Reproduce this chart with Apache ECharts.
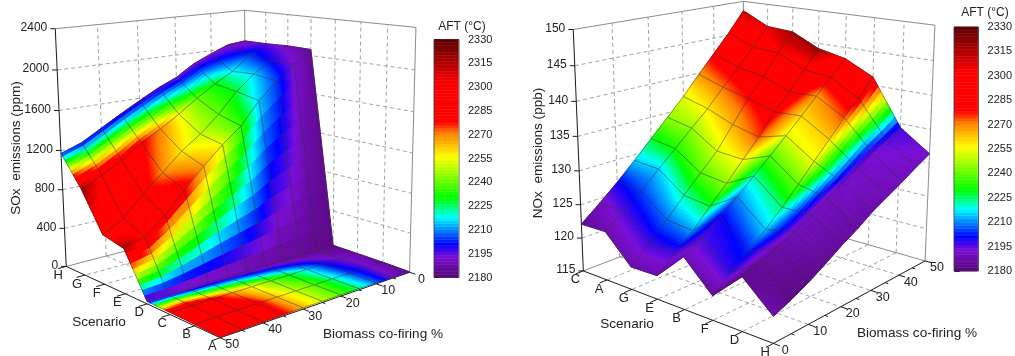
<!DOCTYPE html>
<html>
<head>
<meta charset="utf-8">
<title>SOx and NOx emissions</title>
<script src="https://cdn.jsdelivr.net/npm/echarts@6/dist/echarts.min.js"></script>
<style>
  html, body { margin: 0; padding: 0; background: #fff; }
  #main { width: 1015px; height: 356px; }
</style>
</head>
<body>
<div id="main"></div>
<script>
const biomass = [0, 5, 10, 15, 20, 25, 30, 35, 40, 45, 50];
const biomassTicks = [0, 10, 20, 30, 40, 50];
const aftTicks = [2180, 2195, 2210, 2225, 2240, 2255, 2270, 2285, 2300, 2315, 2330];

const soxScenarios = ['H', 'G', 'F', 'E', 'D', 'C', 'B', 'A'];
const soxTicks = [0, 400, 800, 1200, 1600, 2000, 2400];
const soxValues = [
  [2061, 2042, 1967, 1884, 1762, 1678, 1574, 1467, 1354, 1241, 1170],
  [2061, 1949, 1810, 1704, 1583, 1447, 1328, 1221, 1082, 972, 874],
  [2069, 1933, 1822, 1667, 1462, 1293, 1155, 977, 803, 609, 496],
  [2063, 1930, 1788, 1617, 1395, 1241, 1063, 868, 668, 505, 444],
  [25, 25, 25, 25, 25, 25, 25, 25, 25, 25, 25],
  [20, 20, 20, 20, 20, 20, 20, 20, 20, 20, 20],
  [15, 15, 15, 15, 15, 15, 15, 15, 15, 15, 15],
  [5, 8, 10, 12, 12, 12, 12, 12, 10, 8, 5]
];
const soxAft = [
  [2188, 2190, 2192, 2192, 2193, 2194, 2195, 2196, 2198, 2199, 2202],
  [2195, 2205, 2218, 2230, 2240, 2255, 2270, 2280, 2290, 2297, 2318],
  [2190, 2200, 2215, 2228, 2240, 2250, 2258, 2270, 2283, 2297, 2290],
  [2185, 2192, 2205, 2215, 2235, 2255, 2268, 2283, 2285, 2300, 2318],
  [2183, 2184, 2185, 2185, 2186, 2186, 2187, 2187, 2188, 2189, 2190],
  [2188, 2192, 2200, 2215, 2228, 2240, 2255, 2268, 2282, 2305, 2295],
  [2185, 2195, 2205, 2222, 2238, 2250, 2262, 2282, 2287, 2287, 2290],
  [2185, 2192, 2208, 2225, 2238, 2250, 2265, 2280, 2288, 2288, 2288]
];

const noxScenarios = ['C', 'A', 'G', 'E', 'B', 'F', 'D', 'H'];
const noxTicks = [115, 120, 125, 130, 135, 140, 145, 150];
const noxValues = [
  [122.1, 124.3, 126.6, 129.1, 131.7, 134.3, 136.9, 139.8, 142.6, 145.4, 148.5],
  [122.2, 124.2, 126.3, 128.8, 131.1, 133.5, 135.8, 138.5, 141.0, 143.7, 146.5],
  [118.3, 120.7, 123.2, 125.9, 128.4, 130.9, 134.2, 137.5, 140.3, 143.4, 146.2],
  [118.4, 120.6, 122.8, 125.4, 127.9, 130.6, 133.2, 136.3, 138.7, 141.5, 144.2],
  [122.4, 124.0, 126.0, 127.9, 130.0, 132.1, 134.3, 136.5, 138.8, 141.0, 143.3],
  [118.4, 120.4, 122.3, 124.4, 126.6, 129.0, 131.5, 133.9, 136.4, 138.6, 141.2],
  [122.4, 123.2, 124.2, 125.3, 126.7, 128.1, 129.4, 130.7, 132.1, 133.2, 134.4],
  [118.6, 119.6, 120.8, 122.2, 123.7, 125.0, 126.5, 127.7, 128.9, 130.2, 131.4]
];
const noxAft = [
  [2185, 2190, 2200, 2215, 2228, 2245, 2253, 2268, 2282, 2295, 2310],
  [2188, 2196, 2205, 2215, 2232, 2245, 2258, 2272, 2285, 2292, 2305],
  [2188, 2197, 2208, 2222, 2238, 2252, 2265, 2278, 2288, 2300, 2318],
  [2188, 2197, 2212, 2228, 2245, 2258, 2275, 2283, 2290, 2295, 2320],
  [2190, 2196, 2200, 2210, 2222, 2238, 2253, 2260, 2268, 2285, 2297],
  [2186, 2198, 2203, 2215, 2225, 2240, 2255, 2262, 2275, 2285, 2295],
  [2184, 2186, 2188, 2190, 2190, 2190, 2192, 2192, 2193, 2195, 2197],
  [2188, 2183, 2183, 2185, 2186, 2187, 2188, 2189, 2190, 2191, 2192]
];

// rainbow map
const colorStops = [
  [2180, [84, 8, 112]], [2193, [122, 14, 214]], [2201, [0, 0, 255]],
  [2218, [0, 255, 255]], [2230, [0, 255, 0]], [2256, [255, 255, 0]],
  [2271, [255, 128, 0]], [2278, [255, 0, 0]], [2302, [255, 0, 0]],
  [2330, [90, 0, 0]]
];

const FONT = '"Liberation Sans", Arial, sans-serif';
const SUBDIV = 10;

function aftColor(t) {
  let i = 0;
  while (i < colorStops.length - 2 && t > colorStops[i + 1][0]) i++;
  const a = colorStops[i], b = colorStops[i + 1];
  const f = Math.max(0, Math.min(1, (t - a[0]) / (b[0] - a[0])));
  const c = a[1].map((v, k) => Math.round(v + (b[1][k] - v) * f));
  return 'rgb(' + c.join(',') + ')';
}

// least squares fit of a projective camera from where the box corners sit on the page
function fitCamera(anchors) {
  const n = 11, ata = [], atb = new Array(n).fill(0);
  for (let i = 0; i < n; i++) ata.push(new Array(n).fill(0));
  const addRow = (row, r) => {
    for (let i = 0; i < n; i++) {
      atb[i] += row[i] * r;
      for (let j = 0; j < n; j++) ata[i][j] += row[i] * row[j];
    }
  };
  anchors.forEach(([x, y, z, u, v]) => {
    addRow([x, y, z, 1, 0, 0, 0, 0, -u * x, -u * y, -u * z], u);
    addRow([0, 0, 0, 0, x, y, z, 1, -v * x, -v * y, -v * z], v);
  });
  for (let c = 0; c < n; c++) {
    let p = c;
    for (let r = c + 1; r < n; r++) if (Math.abs(ata[r][c]) > Math.abs(ata[p][c])) p = r;
    [ata[c], ata[p]] = [ata[p], ata[c]];
    [atb[c], atb[p]] = [atb[p], atb[c]];
    for (let r = 0; r < n; r++) {
      if (r === c) continue;
      const f = ata[r][c] / ata[c][c];
      for (let k = c; k < n; k++) ata[r][k] -= f * ata[c][k];
      atb[r] -= f * atb[c];
    }
  }
  const m = atb.map((v, i) => v / ata[i][i]);
  return (x, y, z) => {
    const w = m[8] * x + m[9] * y + m[10] * z + 1;
    return [(m[0] * x + m[1] * y + m[2] * z + m[3]) / w, (m[4] * x + m[5] * y + m[6] * z + m[7]) / w];
  };
}

const panels = [
  {
    scenarios: soxScenarios, zTicks: soxTicks, values: soxValues, aft: soxAft,
    backB: 0, zTitle: 'SOx  emissions (ppm)', zTitlePos: [16.5, 148],
    scenarioPos: [99, 322], biomassPos: [383, 334],
    // [biomass 0..1, scenario 0..1, height 0..1, page x, page y]
    anchors: [
      [1, 0, 0, 66.7, 267.7], [1, 0, 1, 55, 28.3],
      [0, 0, 0, 245.7, 218.3], [0, 0, 1, 245, 10.7],
      [0, 1, 0, 410, 273.3], [0, 1, 1, 415.7, 27.3],
      [1, 1, 0, 220, 336.7]
    ]
  },
  {
    scenarios: noxScenarios, zTicks: noxTicks, values: noxValues, aft: noxAft,
    backB: 1, zTitle: 'NOx  emissions (ppb)', zTitlePos: [538, 153],
    scenarioPos: [627, 324], biomassPos: [917, 333],
    anchors: [
      [0, 0, 0, 583.3, 271.7], [0, 0, 1, 573.3, 29.3],
      [1, 0, 1, 743.3, 1.7], [1, 0, 0, 744, 208.3],
      [1, 1, 0, 925, 261.7], [1, 1, 1, 935, 25],
      [0, 1, 0, 773.3, 342.7]
    ]
  }
];
panels.forEach(p => { p.project = fitCamera(p.anchors); });

function zNorm(p, z) {
  const t = p.zTicks;
  return (z - t[0]) / (t[t.length - 1] - t[0]);
}

const GRID = '#8c8c8c', AXIS = '#1a1a1a', TEXT = '#222';

function boxSeries(p) {
  return {
    type: 'custom', coordinateSystem: 'cartesian2d', xAxisIndex: 0, yAxisIndex: 0,
    silent: true, clip: false, data: [[0, 0]], z: 1,
    renderItem(params, api) {
      const P = (b, s, z) => { const q = p.project(b, s, z); return api.coord(q); };
      const kids = [];
      const line = (a, c, color, width, dash) => kids.push({
        type: 'line', shape: { x1: a[0], y1: a[1], x2: c[0], y2: c[1] },
        style: { stroke: color, lineWidth: width, lineDash: dash || null }
      });
      const text = (str, pos, size, align) => kids.push({
        type: 'text', x: pos[0], y: pos[1],
        style: { text: str, fontSize: size, fontFamily: FONT, fill: TEXT, align: align || 'center', verticalAlign: 'middle' }
      });
      const back = p.backB, front = 1 - back, nS = p.scenarios.length - 1;
      const dash = [4, 3];

      // dashed grid on the walls and the floor
      p.zTicks.forEach(t => {
        const z = zNorm(p, t);
        if (z > 0 && z < 1) {
          line(P(front, 0, z), P(back, 0, z), GRID, 0.8, dash);
          line(P(back, 0, z), P(back, 1, z), GRID, 0.8, dash);
        }
      });
      biomassTicks.slice(1, -1).forEach(t => {
        const b = t / 50;
        line(P(b, 0, 0), P(b, 0, 1), GRID, 0.8, dash);
        line(P(b, 0, 0), P(b, 1, 0), GRID, 0.8, dash);
      });
      p.scenarios.forEach((name, i) => {
        if (i === 0 || i === nS) return;
        const s = i / nS;
        line(P(back, s, 0), P(back, s, 1), GRID, 0.8, dash);
        line(P(back, s, 0), P(front, s, 0), GRID, 0.8, dash);
      });

      // box frame
      line(P(front, 0, 1), P(back, 0, 1), GRID, 1);
      line(P(back, 0, 1), P(back, 1, 1), GRID, 1);
      line(P(back, 0, 0), P(back, 0, 1), GRID, 1);
      line(P(back, 1, 0), P(back, 1, 1), GRID, 1);
      line(P(front, 0, 0), P(back, 0, 0), GRID, 1);
      line(P(back, 0, 0), P(back, 1, 0), GRID, 1);

      // axes
      line(P(front, 0, 0), P(front, 0, 1), AXIS, 1);
      line(P(front, 0, 0), P(front, 1, 0), AXIS, 1);
      line(P(front, 1, 0), P(back, 1, 0), AXIS, 1);

      p.zTicks.forEach(t => {
        const a = P(front, 0, zNorm(p, t));
        line(a, [a[0] - 5, a[1]], AXIS, 1);
        text(String(t), [a[0] - 8, a[1] - 1], 12, 'right');
      });
      const outB = front === 1 ? 1.04 : -0.04;
      p.scenarios.forEach((name, i) => {
        const s = i / nS, a = P(front, s, 0);
        line(a, P(outB, s, 0), AXIS, 1);
        text(name, [a[0] - 8, a[1] + 9], 13);
      });
      biomass.forEach(v => {
        const b = v / 50, a = P(b, 1, 0);
        const major = biomassTicks.indexOf(v) >= 0;
        line(a, P(b, major ? 1.03 : 1.015, 0), AXIS, 1);
        if (major) text(String(v), [a[0] + 12, a[1] + 7], 12.5);
      });

      const title = (str, pos, rot) => kids.push({
        type: 'text', x: pos[0], y: pos[1], rotation: rot || 0,
        style: { text: str, fontSize: 13.6, fontFamily: FONT, fill: TEXT, align: 'center', verticalAlign: 'middle' }
      });
      title(p.zTitle, api.coord(p.zTitlePos), Math.PI / 2);
      title('Scenario', api.coord(p.scenarioPos));
      title('Biomass co-firing %', api.coord(p.biomassPos));
      return { type: 'group', children: kids };
    }
  };
}

function surfaceSeries(p) {
  const cells = [];
  const nS = p.scenarios.length, nB = biomass.length;
  const bOrder = [];
  for (let j = 0; j < nB - 1; j++) bOrder.push(p.backB === 0 ? j : nB - 2 - j);
  for (let i = 0; i < nS - 1; i++) bOrder.forEach(j => cells.push([i, j]));
  return {
    type: 'custom', coordinateSystem: 'cartesian2d', xAxisIndex: 0, yAxisIndex: 0,
    silent: true, clip: false, data: cells, z: 2, progressive: 0, animation: false,
    renderItem(params, api) {
      const i = api.value(0), j = api.value(1);
      const corner = (arr, u, v) =>
        (arr[i][j] * (1 - u) + arr[i][j + 1] * u) * (1 - v) + (arr[i + 1][j] * (1 - u) + arr[i + 1][j + 1] * u) * v;
      const at = (u, v) => {
        const b = (biomass[j] + (biomass[j + 1] - biomass[j]) * u) / 50;
        const s = (i + v) / (nS - 1);
        return api.coord(p.project(b, s, zNorm(p, corner(p.values, u, v))));
      };
      const kids = [];
      const flip = p.backB !== 0;
      for (let a = 0; a < SUBDIV; a++) {
        for (let c0 = 0; c0 < SUBDIV; c0++) {
          const c = flip ? SUBDIV - 1 - c0 : c0;
          const u0 = c / SUBDIV, u1 = (c + 1) / SUBDIV, v0 = a / SUBDIV, v1 = (a + 1) / SUBDIV;
          const col = aftColor(corner(p.aft, (u0 + u1) / 2, (v0 + v1) / 2));
          kids.push({
            type: 'polygon',
            shape: { points: [at(u0, v0), at(u1, v0), at(u1, v1), at(u0, v1)] },
            style: { fill: col, stroke: col, lineWidth: 1 }
          });
        }
      }
      // mesh lines of the cell
      const mesh = [[0, 0, 1, 0], [1, 0, 1, 1], [1, 1, 0, 1], [0, 1, 0, 0]];
      mesh.forEach(m => {
        const a = at(m[0], m[1]), b = at(m[2], m[3]);
        kids.push({
          type: 'line', shape: { x1: a[0], y1: a[1], x2: b[0], y2: b[1] },
          style: { stroke: 'rgba(50,50,50,0.65)', lineWidth: 0.7 }
        });
      });
      return { type: 'group', children: kids };
    }
  };
}

const aftBands = [];
for (let v = aftTicks[0]; v < aftTicks[aftTicks.length - 1]; v += 2) aftBands.push([v, v + 2]);

function colorbarSeries(axisIndex) {
  return {
    type: 'custom', coordinateSystem: 'cartesian2d', xAxisIndex: axisIndex, yAxisIndex: axisIndex,
    silent: true, data: aftBands, z: 3, progressive: 0,
    renderItem(params, api) {
      const lo = api.coord([0, api.value(0)]), hi = api.coord([1, api.value(1)]);
      const col = aftColor((api.value(0) + api.value(1)) / 2);
      return {
        type: 'rect',
        shape: { x: lo[0], y: hi[1], width: hi[0] - lo[0], height: lo[1] - hi[1] },
        style: { fill: col, stroke: col, lineWidth: 0.5 }
      };
    }
  };
}

function colorbarAxes(index) {
  return {
    x: { gridIndex: index, type: 'value', min: -0.03, max: 1.03, show: false },
    y: {
      gridIndex: index, type: 'value', position: 'right', min: 2180, max: 2330,
      axisLine: { show: true, lineStyle: { color: '#444', width: 1 } },
      axisTick: { show: true, length: 5, customValues: aftTicks, lineStyle: { color: '#222' } },
      axisLabel: {
        show: true, customValues: aftTicks, margin: 9, fontSize: 11, fontFamily: FONT, color: TEXT,
        showMinLabel: true, showMaxLabel: true, formatter: v => String(v)
      },
      splitLine: { show: false }
    }
  };
}

const barA = colorbarAxes(1), barB = colorbarAxes(2);
const chart = echarts.init(document.getElementById('main'), null, { renderer: 'canvas' });
chart.setOption({
  animation: false,
  backgroundColor: '#fff',
  graphic: [
    { type: 'text', x: 462, y: 27, style: { text: 'AFT (°C)', fontSize: 12, fontFamily: FONT, fill: TEXT, align: 'center', verticalAlign: 'middle' } },
    { type: 'text', x: 985, y: 13, style: { text: 'AFT (°C)', fontSize: 12, fontFamily: FONT, fill: TEXT, align: 'center', verticalAlign: 'middle' } }
  ],
  grid: [
    { left: 0, top: 0, width: 1015, height: 356 },
    { left: 434, top: 39.5, width: 25, height: 238, show: true, borderColor: '#555', borderWidth: 1, backgroundColor: 'transparent' },
    { left: 954, top: 27, width: 25, height: 244, show: true, borderColor: '#555', borderWidth: 1, backgroundColor: 'transparent' }
  ],
  xAxis: [
    { gridIndex: 0, type: 'value', min: 0, max: 1015, show: false },
    barA.x, barB.x
  ],
  yAxis: [
    { gridIndex: 0, type: 'value', min: 0, max: 356, inverse: true, show: false },
    barA.y, barB.y
  ],
  series: [
    boxSeries(panels[0]), surfaceSeries(panels[0]),
    boxSeries(panels[1]), surfaceSeries(panels[1]),
    colorbarSeries(1), colorbarSeries(2)
  ]
});
</script>
</body>
</html>
